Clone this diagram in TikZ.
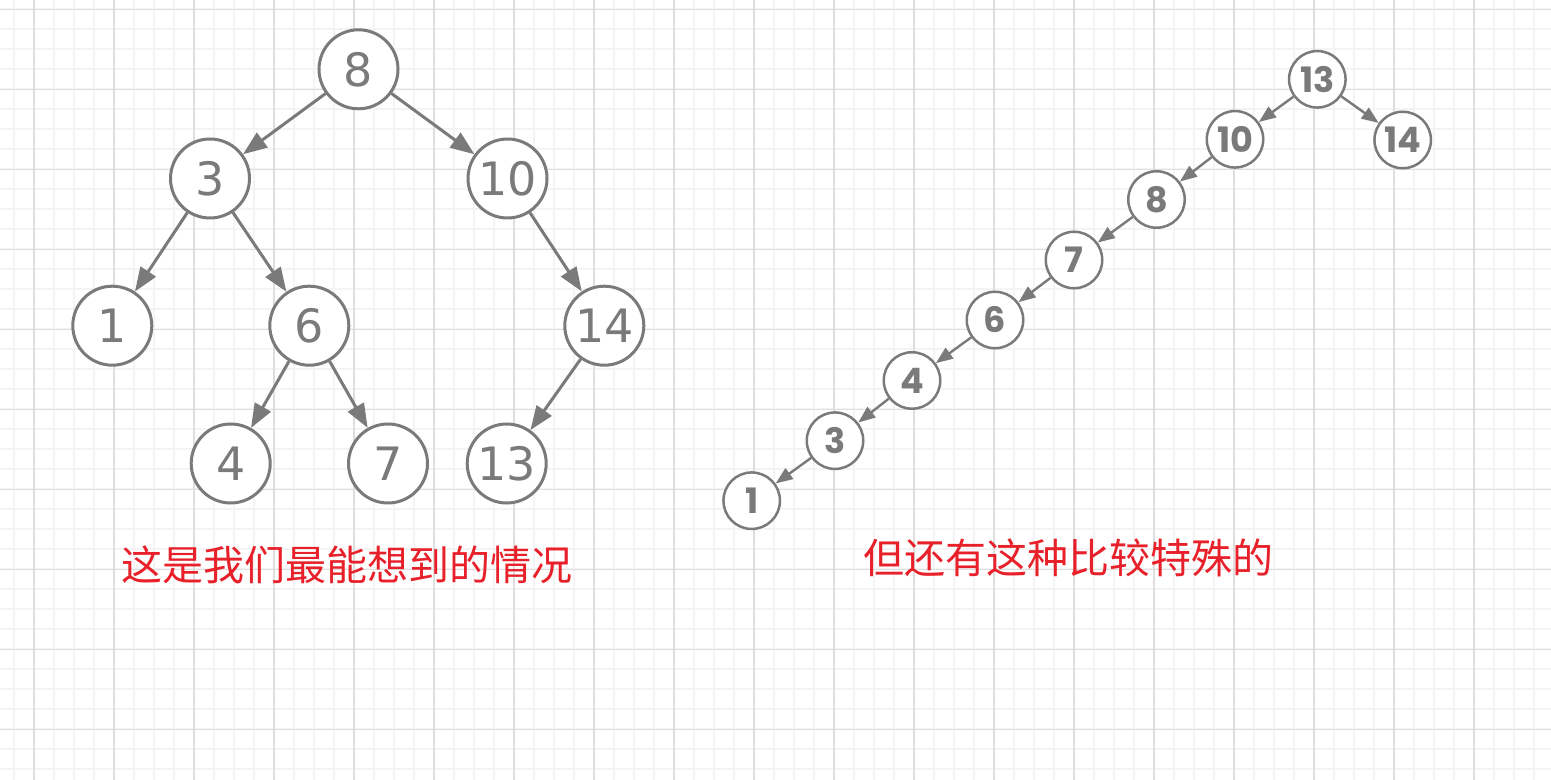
\documentclass[tikz,border=0pt]{standalone}
\usepackage{fontspec}
\newfontfamily\cjkfont{Noto Sans CJK SC}
\newfontfamily\numfontA{DejaVu Sans}
\newfontfamily\numfontB{Poppins}
\usetikzlibrary{arrows.meta}
\definecolor{nodegray}{RGB}{122,122,122}
\definecolor{txtred}{RGB}{232,32,42}
\definecolor{gridminor}{RGB}{244,244,244}
\definecolor{gridmajor}{RGB}{222,222,222}
\tikzset{
  bignode/.style={circle,draw=nodegray,line width=1.5pt,fill=white,minimum size=39.5pt,inner sep=0pt,
    text=nodegray,font=\numfontA\fontsize{23pt}{23pt}\selectfont},
  smallnode/.style={circle,draw=nodegray,line width=1.25pt,fill=white,minimum size=28.25pt,inner sep=0pt,
    text=nodegray,font=\numfontB\bfseries\fontsize{17.5pt}{17.5pt}\selectfont},
  bigedge/.style={draw=nodegray,line width=1.5pt,-{Triangle[length=12pt,width=9pt]}},
  smalledge/.style={draw=nodegray,line width=1.2pt,-{Triangle[length=8.5pt,width=6.5pt]}},
  caption/.style={text=txtred,font=\cjkfont\fontsize{20.5pt}{20.5pt}\selectfont,inner sep=0pt}
}
\begin{document}
\begin{tikzpicture}[x=0.5pt,y=-0.5pt]
\useasboundingbox (0,0) rectangle (1551,780);
\fill[white] (0,0) rectangle (1551,780);
% grid
\foreach \x in {14,34,...,1550} \draw[gridminor,line width=0.9pt] (\x,0) -- (\x,780);
\foreach \y in {9.3,29.3,...,780} \draw[gridminor,line width=0.9pt] (0,\y) -- (1551,\y);
\foreach \x in {34,114,...,1550} \draw[gridmajor,line width=0.6pt] (\x,0) -- (\x,780);
\foreach \y in {9.3,89.3,...,780} \draw[gridmajor,line width=0.6pt] (0,\y) -- (1551,\y);

% left tree
\node[bignode] (L8)  at (358.5,69.3) {8};
\node[bignode] (L3)  at (210,178.5) {3};
\node[bignode] (L10) at (507.5,178.5) {10};
\node[bignode] (L1)  at (112.3,325.7) {1};
\node[bignode] (L6)  at (309.3,325.7) {6};
\node[bignode] (L14) at (604.3,325.7) {14};
\node[bignode] (L4)  at (230.7,463.5) {4};
\node[bignode] (L7)  at (388,463.5) {7};
\node[bignode] (L13) at (506.7,463.5) {13};
\draw[bigedge] (L8) -- (L3);
\draw[bigedge] (L8) -- (L10);
\draw[bigedge] (L3) -- (L1);
\draw[bigedge] (L3) -- (L6);
\draw[bigedge] (L10) -- (L14);
\draw[bigedge] (L6) -- (L4);
\draw[bigedge] (L6) -- (L7);
\draw[bigedge] (L14) -- (L13);

% right tree
\node[smallnode] (R13) at (1317.3,79.3) {13};
\node[smallnode] (R10) at (1235,139.3) {10};
\node[smallnode] (R14) at (1402.7,140) {14};
\node[smallnode] (R8)  at (1156.5,199.5) {8};
\node[smallnode] (R7)  at (1074,260) {7};
\node[smallnode] (R6)  at (995,320) {6};
\node[smallnode] (R4)  at (912,380.5) {4};
\node[smallnode] (R3)  at (835,440.7) {3};
\node[smallnode] (R1)  at (751.7,500.7) {1};
\draw[smalledge] (R13) -- (R10);
\draw[smalledge] (R13) -- (R14);
\draw[smalledge] (R10) -- (R8);
\draw[smalledge] (R8) -- (R7);
\draw[smalledge] (R7) -- (R6);
\draw[smalledge] (R6) -- (R4);
\draw[smalledge] (R4) -- (R3);
\draw[smalledge] (R3) -- (R1);

% captions
\node[caption] (capL) at (347,565) {这是我们最能想到的情况};
\node[caption] (capR) at (1068.5,558) {但还有这种比较特殊的};
\end{tikzpicture}
\end{document}
